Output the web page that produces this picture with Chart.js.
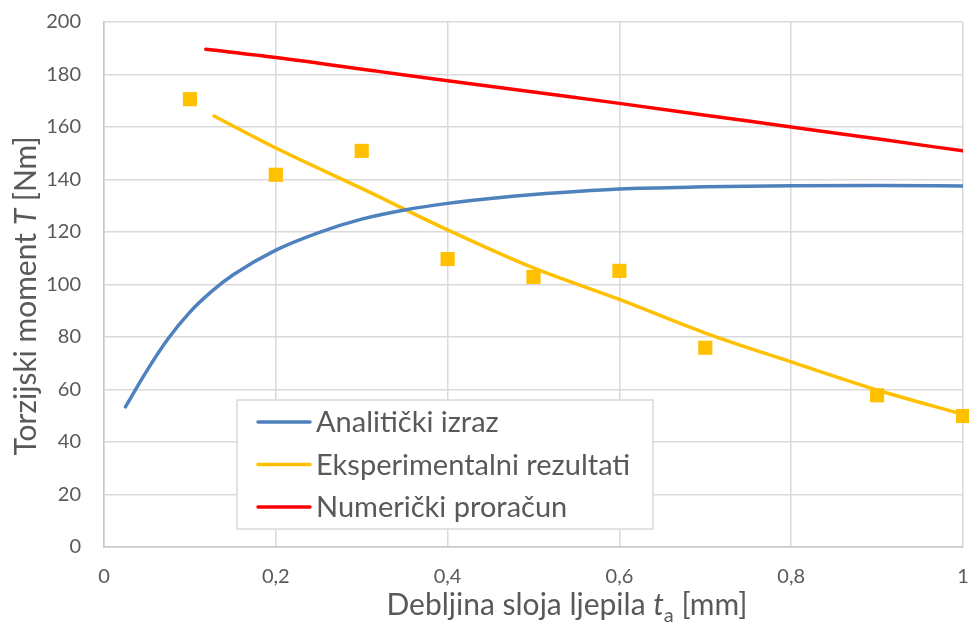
<!DOCTYPE html>
<html>
<head>
<meta charset="utf-8">
<script src="https://cdn.jsdelivr.net/npm/chart.js@4.4.0/dist/chart.umd.min.js"></script>
<style>
  html, body { margin: 0; padding: 0; background: #fff; overflow: hidden; }
  #grafik { display: block; }
</style>
</head>
<body>
<canvas id="grafik" width="969" height="630"></canvas>
<script>
const nazivi = ['Analitički izraz', 'Eksperimentalni rezultati', 'Numerički proračun'];

const analitickiX = [0.025, 0.05, 0.075, 0.1, 0.125, 0.15, 0.2, 0.25, 0.3, 0.35, 0.4, 0.45, 0.5, 0.6, 0.7, 0.8, 0.9, 1.0];
const analitickiY = [53.4, 67.2, 79.5, 89.5, 97.3, 103.6, 113.1, 119.8, 124.9, 128.4, 130.9, 132.8, 134.3, 136.4, 137.2, 137.6, 137.7, 137.5];

const trendX = [0.128, 0.2, 0.3, 0.4, 0.5, 0.6, 0.7, 0.8, 0.9, 1.0];
const trendY = [164.2, 152, 136.6, 120.8, 106.3, 94.3, 81.5, 70.5, 59.8, 50.5];

const mjerenjaX = [0.1, 0.2, 0.3, 0.4, 0.5, 0.6, 0.7, 0.9, 1.0];
const mjerenjaY = [170.6, 141.8, 150.9, 109.7, 102.9, 105.2, 75.9, 57.8, 49.9];

const numerickiX = [0.1185, 0.2, 0.3215, 0.4, 0.5, 0.6, 0.7, 0.8, 0.9, 1.0];
const numerickiY = [189.6, 186.5, 181.1, 177.6, 173.3, 169.0, 164.5, 160.0, 155.5, 150.9];

const xTikovi = [0, 0.2, 0.4, 0.6, 0.8, 1];
const yTikovi = [0, 20, 40, 60, 80, 100, 120, 140, 160, 180, 200];

const FONT = 'Lato';
const SIVA = '#595959';

function tocke(xs, ys) {
  return xs.map((x, i) => ({ x: x, y: ys[i] }));
}

function crtajDijelove(ctx, dijelovi, x, y, poravnanje) {
  // dijelovi: [tekst, font, pomakY]
  let ukupno = 0;
  dijelovi.forEach(d => { ctx.font = d[1]; ukupno += ctx.measureText(d[0]).width; });
  let pocetak = poravnanje === 'center' ? x - ukupno / 2 : x;
  ctx.textAlign = 'left';
  dijelovi.forEach(d => {
    ctx.font = d[1];
    ctx.fillText(d[0], pocetak, y + (d[2] || 0));
    pocetak += ctx.measureText(d[0]).width;
  });
}

const naslovi = {
  id: 'naslovi',
  afterDraw(chart) {
    const ctx = chart.ctx;
    ctx.save();
    ctx.fillStyle = SIVA;
    ctx.textBaseline = 'alphabetic';
    const obicni = `30px ${FONT}`;
    const kurziv = `italic 30px ${FONT}`;
    const indeks = `20px ${FONT}`;
    crtajDijelove(ctx, [
      ['Debljina sloja ljepila ', obicni],
      ['t', kurziv],
      ['a', indeks, 7],
      [' [mm]', obicni]
    ], 567, 615, 'center');

    ctx.translate(36, 296);
    ctx.rotate(-Math.PI / 2);
    crtajDijelove(ctx, [
      ['Torzijski moment ', obicni],
      ['T', kurziv],
      [' [Nm]', obicni]
    ], 0, 0, 'center');
    ctx.restore();
  }
};

const legenda = {
  id: 'legenda',
  afterDraw(chart) {
    const ctx = chart.ctx;
    ctx.save();
    ctx.fillStyle = '#ffffff';
    ctx.fillRect(237, 400, 416, 129);
    ctx.strokeStyle = '#d9d9d9';
    ctx.lineWidth = 1.5;
    ctx.strokeRect(237, 400, 416, 129);
    const redovi = [422, 464.5, 507];
    const boje = ['#4f81bd', '#ffc000', '#ff0000'];
    ctx.font = `29px ${FONT}`;
    ctx.textBaseline = 'middle';
    ctx.lineCap = 'round';
    nazivi.forEach((naziv, i) => {
      ctx.strokeStyle = boje[i];
      ctx.lineWidth = 3.5;
      ctx.beginPath();
      ctx.moveTo(258, redovi[i]);
      ctx.lineTo(310, redovi[i]);
      ctx.stroke();
      ctx.fillStyle = SIVA;
      ctx.fillText(naziv, 316, redovi[i] + 1);
    });
    ctx.restore();
  }
};

// bez dodatnog prostora za prve/zadnje oznake, da područje crtanja bude kao u originalu
function bezPreljeva(s) {
  s.paddingTop = 0;
  s.paddingBottom = 0;
  s.paddingLeft = 0;
  s.paddingRight = 0;
  s.getPadding = () => ({ left: 0, top: 0, right: 0, bottom: 0 });
}

new Chart(document.getElementById('grafik'), {
  type: 'scatter',
  data: {
    datasets: [
      {
        label: nazivi[0],
        data: tocke(analitickiX, analitickiY),
        showLine: true,
        borderColor: '#4f81bd',
        borderWidth: 3.5,
        pointRadius: 0,
        cubicInterpolationMode: 'monotone',
        borderCapStyle: 'round'
      },
      {
        label: nazivi[1],
        data: tocke(trendX, trendY),
        showLine: true,
        borderColor: '#ffc000',
        borderWidth: 3.5,
        pointRadius: 0,
        cubicInterpolationMode: 'monotone',
        borderCapStyle: 'round'
      },
      {
        label: 'mjerenja',
        data: tocke(mjerenjaX, mjerenjaY),
        showLine: false,
        pointStyle: 'rect',
        pointRadius: 10,
        backgroundColor: '#ffc000',
        borderColor: '#ffc000',
        borderWidth: 0,
        clip: 12
      },
      {
        label: nazivi[2],
        data: tocke(numerickiX, numerickiY),
        showLine: true,
        borderColor: '#ff0000',
        borderWidth: 3.5,
        pointRadius: 0,
        cubicInterpolationMode: 'monotone',
        borderCapStyle: 'round'
      }
    ]
  },
  options: {
    responsive: false,
    animation: false,
    layout: { autoPadding: false, padding: { top: 22, right: 6, left: 0, bottom: 0 } },
    plugins: {
      legend: { display: false },
      tooltip: { enabled: false }
    },
    scales: {
      x: {
        type: 'linear',
        min: 0,
        max: 1,
        afterFit: s => { s.height = 83; bezPreljeva(s); },
        afterBuildTicks: s => { s.ticks = xTikovi.map(v => ({ value: v })); },
        ticks: {
          color: SIVA,
          font: { family: FONT, size: 20 },
          padding: 18,
          callback: v => String(Math.round(v * 10) / 10).replace('.', ',')
        },
        grid: { color: '#d9d9d9', lineWidth: 1.5, drawTicks: false },
        border: { color: '#c8c8c8', width: 1.5 }
      },
      y: {
        type: 'linear',
        min: 0,
        max: 200,
        afterFit: s => { s.width = 104; bezPreljeva(s); },
        afterBuildTicks: s => { s.ticks = yTikovi.map(v => ({ value: v })); },
        ticks: {
          color: SIVA,
          font: { family: FONT, size: 20 },
          padding: 23
        },
        grid: { color: '#d9d9d9', lineWidth: 1.5, drawTicks: false },
        border: { color: '#c8c8c8', width: 1.5 }
      }
    }
  },
  plugins: [naslovi, legenda]
});
</script>
</body>
</html>
